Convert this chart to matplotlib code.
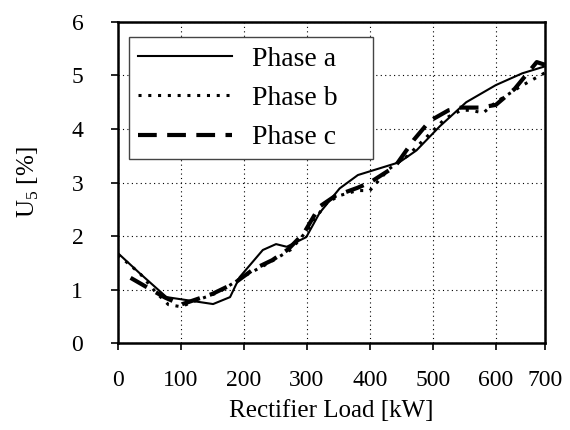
import matplotlib.pyplot as plt
import numpy as np

plt.rcParams['font.family'] = ['Liberation Serif', 'DejaVu Serif']

# values (load in kW, U5 in %)
load_a = [0, 35, 77, 151, 178, 193, 230, 251, 268, 299, 320, 352, 381, 447, 474, 511, 553, 600, 642, 678]
u5_a = [1.68, 1.30, 0.86, 0.73, 0.86, 1.23, 1.74, 1.85, 1.80, 1.98, 2.43, 2.89, 3.14, 3.38, 3.60, 4.05, 4.50, 4.82, 5.04, 5.17]

load_b = [0, 35, 60, 80, 100, 125, 160, 200, 240, 275, 300, 330, 350, 380, 400, 430, 460, 490, 520, 545, 560, 580, 600, 640, 678]
u5_b = [1.65, 1.30, 0.95, 0.72, 0.68, 0.80, 0.95, 1.25, 1.50, 1.75, 2.10, 2.60, 2.75, 2.85, 2.85, 3.25, 3.50, 3.85, 4.20, 4.35, 4.35, 4.30, 4.50, 4.80, 5.05]

load_c = [20, 45, 75, 100, 115, 150, 185, 215, 245, 270, 295, 320, 345, 380, 400, 440, 470, 495, 525, 545, 575, 600, 630, 665, 678]
u5_c = [1.22, 1.05, 0.85, 0.72, 0.78, 0.92, 1.12, 1.38, 1.55, 1.75, 2.05, 2.55, 2.75, 2.90, 3.00, 3.30, 3.80, 4.15, 4.35, 4.40, 4.40, 4.45, 4.75, 5.25, 5.20]

x_ticks = [0, 100, 200, 300, 400, 500, 600, 678]
x_tick_labels = ['0', '100', '200', '300', '400', '500', '600', '700']
y_ticks = [0, 1, 2, 3, 4, 5, 6]

fig = plt.figure(figsize=(5.7, 4.3), dpi=100)
ax = fig.add_axes([0.207, 0.202, 0.749, 0.747])

ax.plot(load_a, u5_a, color='black', lw=1.5, label='Phase a')
ax.plot(load_b, u5_b, color='black', lw=2.2, linestyle=(0, (1, 2.2)), label='Phase b')
ax.plot(load_c, u5_c, color='black', lw=3, linestyle=(0, (4.5, 2.5)), label='Phase c')

ax.set_xlim(0, 678)
ax.set_ylim(0, 6)
ax.set_xticks(x_ticks)
ax.set_xticklabels(x_tick_labels)
ax.set_yticks(y_ticks)
ax.grid(True, color='black', linestyle=(0, (1, 3)), linewidth=0.8)
ax.set_axisbelow(True)

for s in ax.spines.values():
    s.set_linewidth(1.8)
ax.tick_params(direction='out', length=5, width=1.2, labelsize=17)
ax.tick_params(axis='x', pad=14)
ax.tick_params(axis='y', pad=20)

ax.set_xlabel('Rectifier Load [kW]', fontsize=18, labelpad=7)
ax.set_ylabel('U$_{\\mathregular{5}}$ [%]', fontsize=18, labelpad=22)

# legend box spans x 0.026..0.597 of the axes
leg = ax.legend(loc='upper left', bbox_to_anchor=(0.026, 0.0, 0.571, 0.952),
                mode='expand', borderaxespad=0,
                fontsize=20, frameon=True, fancybox=False, handlelength=3.4,
                handletextpad=0.7, labelspacing=0.5, borderpad=0.32)
leg.get_frame().set_edgecolor('#444444')
leg.get_frame().set_linewidth(1.0)
leg.get_frame().set_alpha(1)

fig.savefig('out.png', dpi=100)
